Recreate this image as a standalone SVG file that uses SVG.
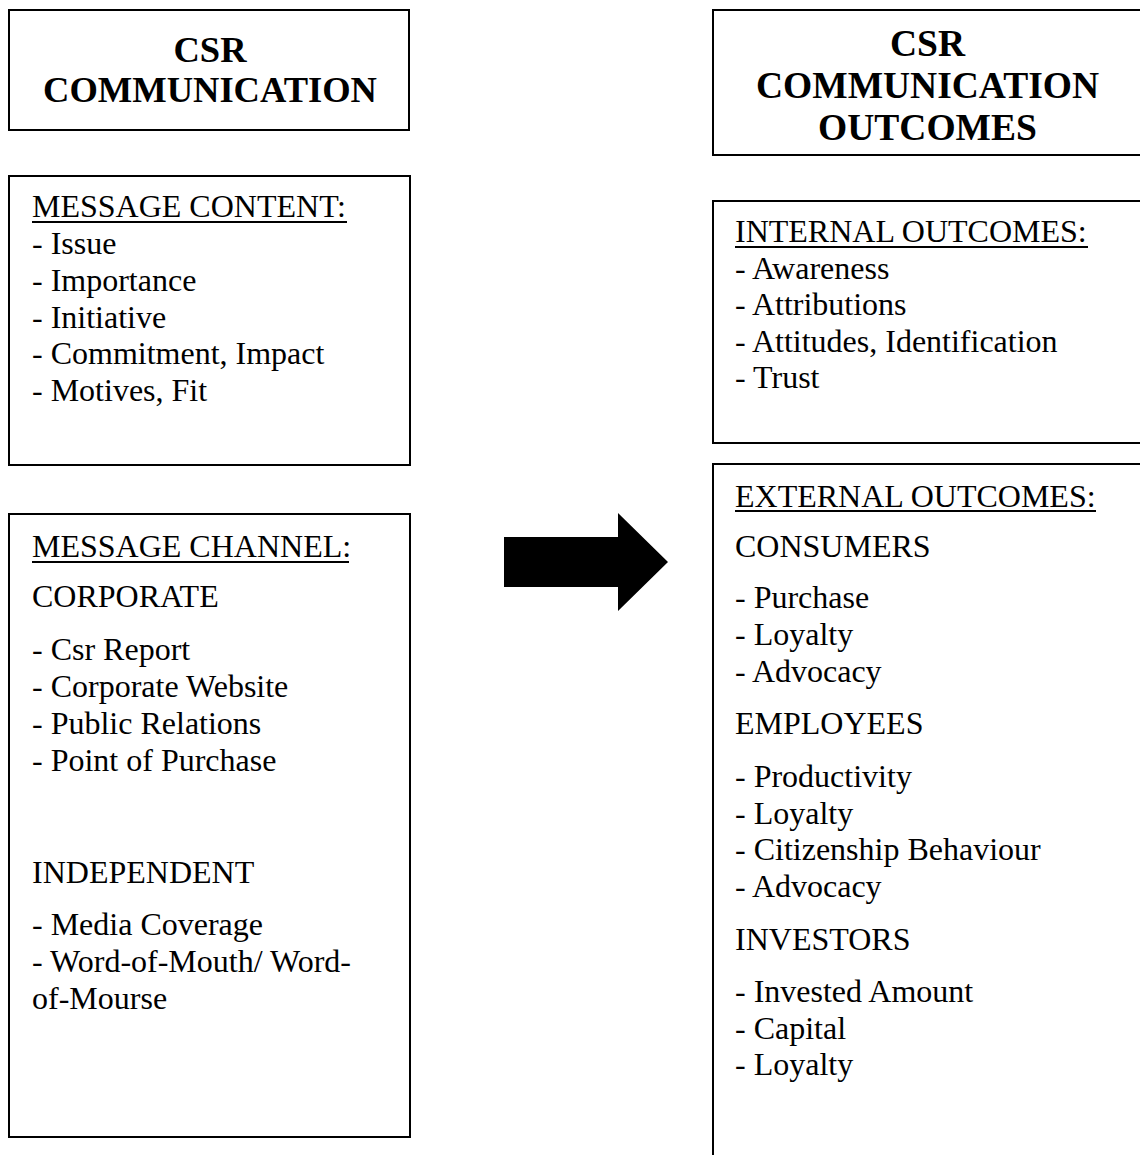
<svg xmlns="http://www.w3.org/2000/svg" width="1140" height="1155" viewBox="0 0 1140 1155">
<style>
.box{fill:#fff;stroke:#000;stroke-width:2}
.title{font-family:"Liberation Serif","Times New Roman",serif;font-weight:bold;font-size:36.5px;text-anchor:middle;fill:#000}
.title2{font-size:37.5px}
.t{font-family:"Liberation Serif","Times New Roman",serif;font-size:32px;fill:#000}
.ul{stroke:#000;stroke-width:2}
</style>
<rect width="1140" height="1155" fill="#fff"/>
<g id="csr-communication">
<rect class="box" x="9" y="10" width="400" height="120"/>
<text class="title" x="210" y="62">CSR</text>
<text class="title" x="210" y="102">COMMUNICATION</text>
</g>
<g id="message-content">
<rect class="box" x="9" y="176" width="401" height="289"/>
<text class="t" x="32" y="217">MESSAGE CONTENT:</text>
<line class="ul" x1="32" y1="222" x2="347" y2="222"/>
<text class="t" x="32" y="254">- Issue</text>
<text class="t" x="32" y="291">- Importance</text>
<text class="t" x="32" y="327.5">- Initiative</text>
<text class="t" x="32" y="364">- Commitment, Impact</text>
<text class="t" x="32" y="401">- Motives, Fit</text>
</g>
<g id="message-channel">
<rect class="box" x="9" y="514" width="401" height="623"/>
<text class="t" x="32" y="557">MESSAGE CHANNEL:</text>
<line class="ul" x1="32" y1="562" x2="349" y2="562"/>
<text class="t" x="32" y="607">CORPORATE</text>
<text class="t" x="32" y="660">- Csr Report</text>
<text class="t" x="32" y="697">- Corporate Website</text>
<text class="t" x="32" y="734">- Public Relations</text>
<text class="t" x="32" y="770.5">- Point of Purchase</text>
<text class="t" x="32" y="883">INDEPENDENT</text>
<text class="t" x="32" y="935">- Media Coverage</text>
<text class="t" x="32" y="972">- Word-of-Mouth/ Word-</text>
<text class="t" x="32" y="1009">of-Mourse</text>
</g>
<g id="csr-communication-outcomes">
<rect class="box" x="713" y="10" width="440" height="145"/>
<text class="title title2" x="927.5" y="56">CSR</text>
<text class="title title2" x="927.5" y="98">COMMUNICATION</text>
<text class="title title2" x="927.5" y="140">OUTCOMES</text>
</g>
<g id="internal-outcomes">
<rect class="box" x="713" y="201" width="440" height="242"/>
<text class="t" x="735" y="242">INTERNAL OUTCOMES:</text>
<line class="ul" x1="735" y1="247" x2="1088" y2="247"/>
<text class="t" x="735" y="278.5">- Awareness</text>
<text class="t" x="735" y="315">- Attributions</text>
<text class="t" x="735" y="351.5">- Attitudes, Identification</text>
<text class="t" x="735" y="388">- Trust</text>
</g>
<g id="external-outcomes">
<rect class="box" x="713" y="464" width="440" height="720"/>
<text class="t" x="735" y="507">EXTERNAL OUTCOMES:</text>
<line class="ul" x1="735" y1="511" x2="1096" y2="511"/>
<text class="t" x="735" y="557">CONSUMERS</text>
<text class="t" x="735" y="608">- Purchase</text>
<text class="t" x="735" y="645">- Loyalty</text>
<text class="t" x="735" y="682">- Advocacy</text>
<text class="t" x="735" y="734">EMPLOYEES</text>
<text class="t" x="735" y="787">- Productivity</text>
<text class="t" x="735" y="823.5">- Loyalty</text>
<text class="t" x="735" y="860">- Citizenship Behaviour</text>
<text class="t" x="735" y="897">- Advocacy</text>
<text class="t" x="735" y="950">INVESTORS</text>
<text class="t" x="735" y="1002">- Invested Amount</text>
<text class="t" x="735" y="1038.5">- Capital</text>
<text class="t" x="735" y="1075">- Loyalty</text>
</g>
<g id="connectors">
<polygon points="504,537 618,537 618,513 668,562 618,611 618,587 504,587" fill="#000"/>
</g>
</svg>
